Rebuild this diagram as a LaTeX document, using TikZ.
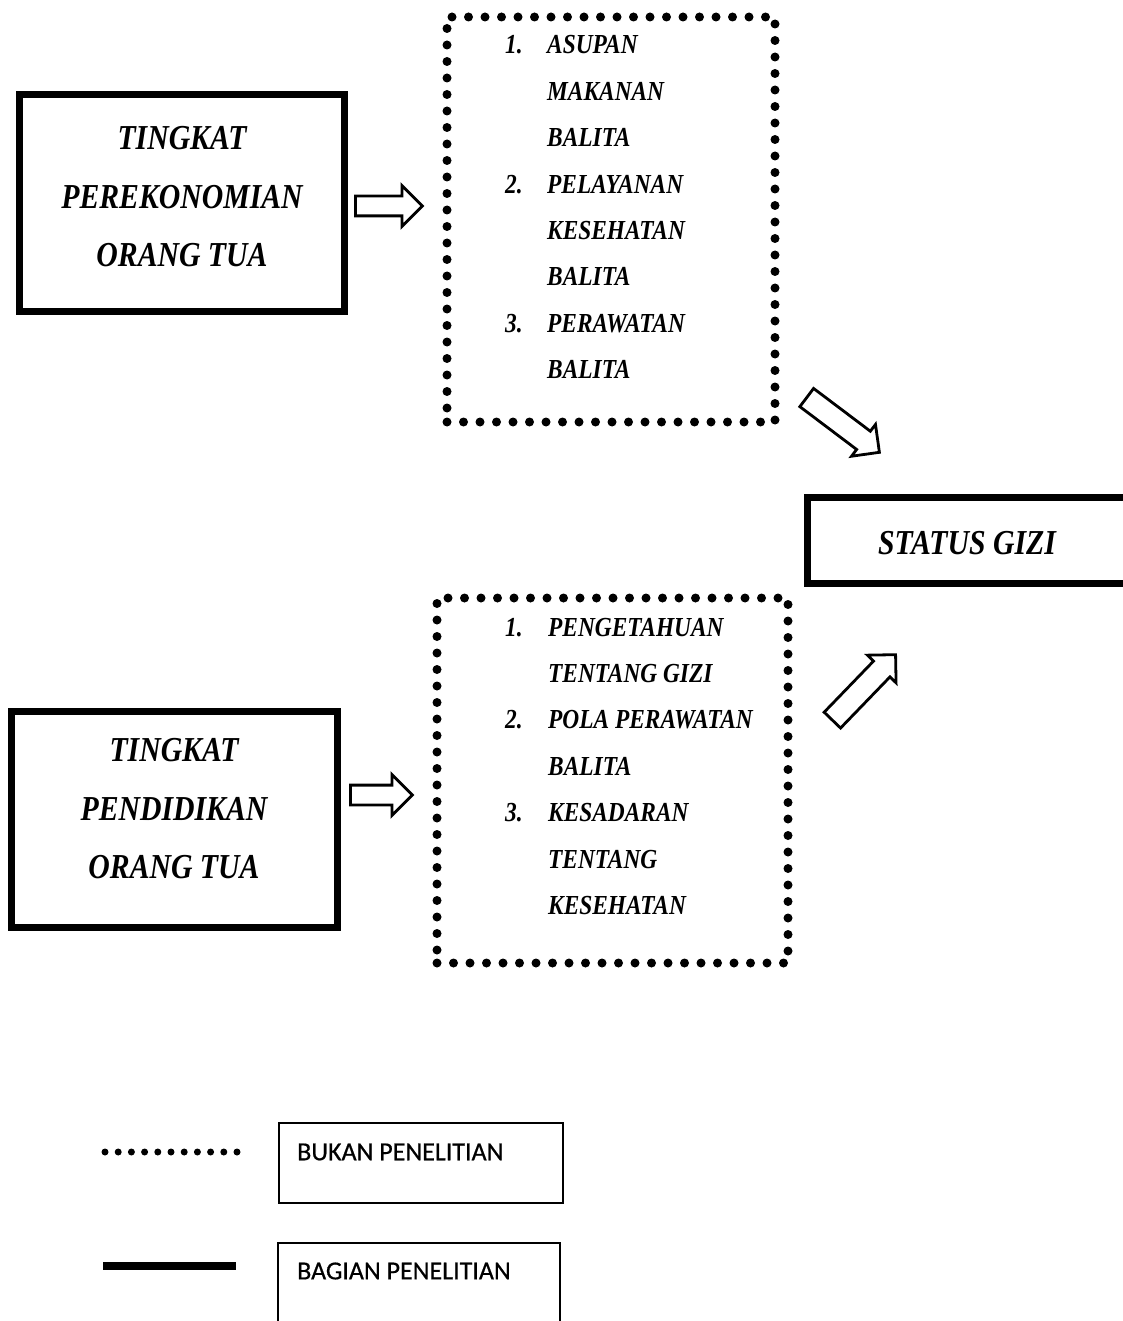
\documentclass[tikz,border=0pt]{standalone}
\usepackage{fontspec}
\setmainfont{Liberation Serif}
\newfontfamily\judulfont[FakeStretch=0.85]{Liberation Serif}
\newfontfamily\legendfont[FakeBold=0.6]{Carlito}
\usetikzlibrary{shapes.arrows}

\begin{document}
\begin{tikzpicture}[x=1pt, y=-1pt,
  solidbox/.style={draw, line width=7pt, inner sep=0},
  dotbox/.style={draw, line width=9pt, line cap=round, dash pattern=on 0pt off 16.5pt, inner sep=0},
  bigtext/.style={font=\judulfont\bfseries\itshape\fontsize{35}{58.5}\selectfont, align=center, inner sep=0},
  listtext/.style={font=\judulfont\bfseries\itshape\fontsize{27.5}{46.4}\selectfont, anchor=base west, inner sep=0},
  hollow/.style={draw, single arrow, line width=2.8pt, inner xsep=0, minimum width=0pt},
  legendbox/.style={draw, line width=2pt, inner sep=0},
  legendtext/.style={font=\legendfont\fontsize{26}{30}\selectfont, anchor=west, inner sep=0}]

\useasboundingbox (0,0) rectangle (1123,1321);

\node (box1) at (181.5,203) [solidbox, minimum width=325pt, minimum height=216pt] {};
\node (text1) at (182,197) [bigtext] {TINGKAT\\PEREKONOMIAN\\ORANG TUA};

\node (box2) at (174,819) [solidbox, minimum width=326pt, minimum height=216pt] {};
\node (text2) at (174,809) [bigtext] {TINGKAT\\PENDIDIKAN\\ORANG TUA};

\node (factor1) at (611,219.5) [dotbox, minimum width=328pt, minimum height=405pt] {};
\node (list1) at (505,54) [listtext] {\begin{tabular}[t]{@{}p{42pt}@{}l@{}}
1. & ASUPAN\\ & MAKANAN\\ & BALITA\\
2. & PELAYANAN\\ & KESEHATAN\\ & BALITA\\
3. & PERAWATAN\\ & BALITA\end{tabular}};

\node (factor2) at (612.5,780.5) [dotbox, minimum width=351pt, minimum height=365pt] {};
\node (list2) at (505,636) [listtext] {\begin{tabular}[t]{@{}p{43pt}@{}l@{}}
1. & PENGETAHUAN\\ & TENTANG GIZI\\
2. & POLA PERAWATAN\\ & BALITA\\
3. & KESADARAN\\ & TENTANG\\ & KESEHATAN\end{tabular}};

\node (status) at (983.5,540) [solidbox, minimum width=353pt, minimum height=86pt] {};
\node (statustext) at (967,543) [bigtext] {STATUS GIZI};

\node (arrow1) at (384,206) [hollow, minimum height=67pt, inner ysep=8.5pt, single arrow head extend=10.5pt] {};
\node (arrow2) at (376.5,795) [hollow, minimum height=62pt, inner ysep=8.5pt, single arrow head extend=10.5pt] {};
\node (arrow3) at (838.5,421.5) [hollow, minimum height=91pt, inner ysep=10pt, single arrow head extend=8.5pt, rotate=-37] {};
\node (arrow4) at (860,691.5) [hollow, minimum height=91pt, inner ysep=10pt, single arrow head extend=8.5pt, rotate=46] {};

\draw[line width=7pt, line cap=round, dash pattern=on 0pt off 13.2pt] (105,1152) -- (238,1152);
\node (legend1) at (421,1163) [legendbox, minimum width=284pt, minimum height=80pt] {};
\node (legendtext1) at (297,1152) [legendtext] {BUKAN PENELITIAN};

\draw[line width=8pt] (103,1266) -- (236,1266);
\node (legend2) at (419,1294) [legendbox, minimum width=282pt, minimum height=102pt] {};
\node (legendtext2) at (297,1271) [legendtext] {BAGIAN PENELITIAN};

\end{tikzpicture}
\end{document}
